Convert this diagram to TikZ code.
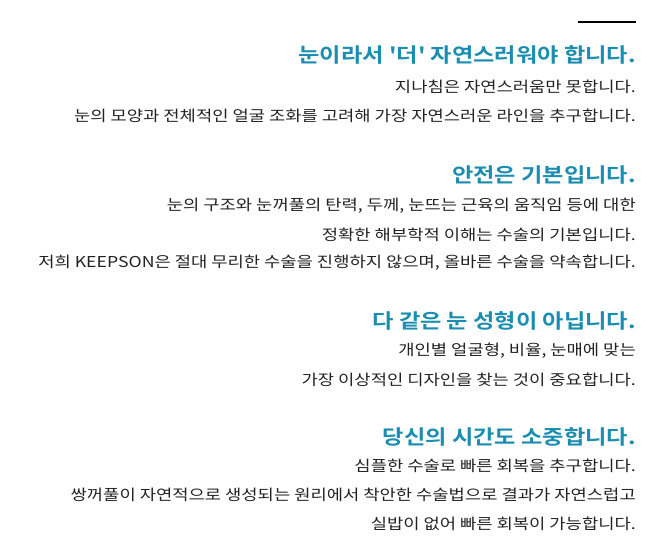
\documentclass[tikz,border=0pt]{standalone}
\usepackage{fontspec}
\newfontfamily\krr[FakeStretch=1.18]{Noto Sans CJK KR}
\newfontfamily\krb[FakeStretch=1.16]{Noto Sans CJK KR Bold}
\definecolor{hd}{HTML}{1A8DB0}
\definecolor{bd}{HTML}{222222}
\tikzset{head/.style={anchor=east,inner sep=0pt,text=hd,font=\krb\fontsize{20}{22}\selectfont},
body/.style={anchor=east,inner sep=0pt,text=bd,font=\krr\fontsize{15}{16}\selectfont}}
\begin{document}
\begin{tikzpicture}[x=1pt,y=-1pt]
\useasboundingbox (0,0) rectangle (650,540);
\draw[line width=2.5pt] (578,22) -- (636,22);
\node[head] (h1) at (636,55) {눈이라서 '더' 자연스러워야 합니다.};
\node[body] (b11) at (636,87) {지나침은 자연스러움만 못합니다.};
\node[body] (b12) at (636,116) {눈의 모양과 전체적인 얼굴 조화를 고려해 가장 자연스러운 라인을 추구합니다.};
\node[head] (h2) at (636,175) {안전은 기본입니다.};
\node[body] (b21) at (636,206) {눈의 구조와 눈꺼풀의 탄력, 두께, 눈뜨는 근육의 움직임 등에 대한};
\node[body] (b22) at (636,235) {정확한 해부학적 이해는 수술의 기본입니다.};
\node[body] (b23) at (636,263) {저희 KEEPSON은 절대 무리한 수술을 진행하지 않으며, 올바른 수술을 약속합니다.};
\node[head] (h3) at (636,321) {다 같은 눈 성형이 아닙니다.};
\node[body] (b31) at (636,351) {개인별 얼굴형, 비율, 눈매에 맞는};
\node[body] (b32) at (636,380) {가장 이상적인 디자인을 찾는 것이 중요합니다.};
\node[head] (h4) at (636,437) {당신의 시간도 소중합니다.};
\node[body] (b41) at (636,466) {심플한 수술로 빠른 회복을 추구합니다.};
\node[body] (b42) at (636,495) {쌍꺼풀이 자연적으로 생성되는 원리에서 착안한 수술법으로 결과가 자연스럽고};
\node[body] (b43) at (636,524) {실밥이 없어 빠른 회복이 가능합니다.};
\end{tikzpicture}
\end{document}
